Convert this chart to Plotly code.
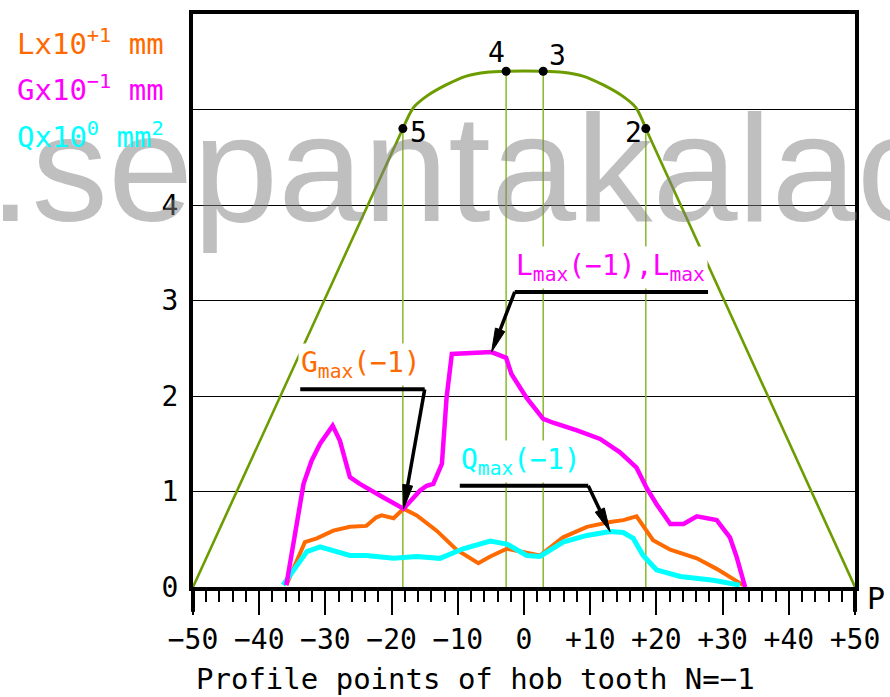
import math
import plotly.graph_objects as go

# ---------------- data ----------------
# hob tooth profile (green outline): straight flanks + rounded tip
profile_p = [-50, -18.3, -16.7, -14.7, -11.7, -8.7, -5.6, -2.7, 2.9, 5.8, 8.9, 11.9, 14.9, 16.9, 18.4, 50]
profile_v = [0, 4.80, 5.02, 5.14, 5.26, 5.35, 5.39, 5.40, 5.40, 5.39, 5.35, 5.26, 5.14, 5.02, 4.80, 0]

# numbered profile points
point_p = [-18.3, -2.7, 2.9, 18.4]
point_v = [4.80, 5.40, 5.40, 4.80]
point_lbl = ["5", "4", "3", "2"]

# L x10^+1 mm (orange)
L_p = [-35.9, -33.1, -31.3, -28.8, -26.3, -23.8, -22.3, -21.5, -19.7, -18.2, -16.2, -13.2, -10.2, -6.9, -5.1,
       -2.6, -1.1, 1.4, 2.4, 5.9, 9.5, 13.0, 15.0, 17.0, 18.5, 19.5, 22.1, 26.1, 29.1, 33.1]
L_v = [0.02, 0.47, 0.51, 0.59, 0.63, 0.64, 0.73, 0.75, 0.72, 0.82, 0.75, 0.59, 0.39, 0.25, 0.32,
       0.40, 0.38, 0.35, 0.33, 0.52, 0.63, 0.68, 0.70, 0.74, 0.59, 0.49, 0.39, 0.30, 0.19, 0.02]

# G x10^-1 mm (magenta)
G_p = [-35.9, -34.8, -33.3, -32.1, -30.8, -28.9, -27.8, -26.3, -24.8, -21.3, -18.2, -15.7, -14.7, -13.7, -12.4,
       -11.7, -10.9, -4.9, -2.7, -1.9, 0.4, 2.9, 4.4, 8.0, 11.5, 14.5, 17.0, 18.5, 20.0, 22.1, 24.1, 26.1,
       29.1, 31.1, 32.1, 33.4]
G_v = [0.02, 0.45, 1.08, 1.32, 1.50, 1.69, 1.53, 1.15, 1.08, 0.94, 0.82, 1.01, 1.06, 1.08, 1.29,
       1.98, 2.44, 2.46, 2.40, 2.23, 1.98, 1.76, 1.72, 1.64, 1.55, 1.41, 1.25, 1.04, 0.87, 0.66, 0.66, 0.74,
       0.70, 0.52, 0.32, 0.0]

# Q x10^0 mm^2 (cyan)
Q_p = [-36.4, -34.8, -32.8, -30.8, -28.3, -26.3, -23.8, -19.7, -16.2, -12.7, -9.2, -5.1, -2.6, 0.4, 2.4,
       5.9, 9.5, 13.0, 15.0, 16.5, 18.0, 20.0, 23.6, 28.6, 32.6]
Q_v = [0.02, 0.18, 0.37, 0.42, 0.37, 0.33, 0.33, 0.30, 0.32, 0.30, 0.40, 0.48, 0.45, 0.33, 0.32,
       0.47, 0.54, 0.58, 0.57, 0.51, 0.33, 0.18, 0.11, 0.07, 0.02]

# max call-outs: tip on curve, leader start/end and leader level
gmax = dict(p=-18.2, v=0.82, x0=-33.8, x1=-15.0, lv=2.07)
lmax = dict(p=-4.9, v=2.46, x0=-1.4, x1=27.8, lv=3.09)
qmax = dict(p=13.0, v=0.58, x0=-9.7, x1=9.7, lv=1.06)

x_ticks = [-50, -40, -30, -20, -10, 0, 10, 20, 30, 40, 50]
x_ticktext = ["\u221250", "\u221240", "\u221230", "\u221220", "\u221210", "0", "+10", "+20", "+30", "+40", "+50"]
y_ticks = [0, 1, 2, 3, 4]
y_ticktext = ["0", "1", "2", "3", "4"]
y_top_grid = 5

# ---------------- style ----------------
ORANGE = "#ff6a00"
MAGENTA = "#ff00ff"
CYAN = "#00ffff"
GREEN = "#6c9c00"
VGREEN = "#8ab82a"
FONT = "DejaVu Sans Mono"

W, H = 890, 697
L_M, R_M, T_M, B_M = 193, 35, 10, 110
X_RANGE = [-50, 50]
Y_RANGE = [0, 6]
SX = (W - L_M - R_M) / (X_RANGE[1] - X_RANGE[0])   # px per x unit
SY = (H - T_M - B_M) / (Y_RANGE[1] - Y_RANGE[0])   # px per y unit


def px(x):
    return (x - L_M) / (W - L_M - R_M)


def py(y):
    return (H - B_M - y) / (H - T_M - B_M)


fig = go.Figure()

# watermark
fig.add_annotation(text=".sepantakalac", xref="paper", yref="paper", x=px(-13), y=py(253),
                   xanchor="left", yanchor="bottom", showarrow=False,
                   font=dict(family="Liberation Sans", size=153, color="rgba(128,128,128,0.5)"))

# vertical lines from profile points
for p, v in zip(point_p, point_v):
    fig.add_trace(go.Scatter(x=[p, p], y=[0, v], mode="lines", line=dict(color=VGREEN, width=1.5),
                             hoverinfo="skip", showlegend=False))

# profile outline: straight flanks and smooth rounded tip
fig.add_trace(go.Scatter(x=profile_p[:2], y=profile_v[:2], mode="lines",
                         line=dict(color=GREEN, width=2.6), showlegend=False))
fig.add_trace(go.Scatter(x=profile_p[-2:], y=profile_v[-2:], mode="lines",
                         line=dict(color=GREEN, width=2.6), showlegend=False))
fig.add_trace(go.Scatter(x=profile_p[1:-1], y=profile_v[1:-1], mode="lines",
                         line=dict(color=GREEN, width=3, shape="spline", smoothing=0.8), showlegend=False))

fig.add_trace(go.Scatter(x=L_p, y=L_v, mode="lines", line=dict(color=ORANGE, width=4), showlegend=False))
fig.add_trace(go.Scatter(x=Q_p, y=Q_v, mode="lines", line=dict(color=CYAN, width=5), showlegend=False))
fig.add_trace(go.Scatter(x=G_p, y=G_v, mode="lines", line=dict(color=MAGENTA, width=4.5), showlegend=False))

# points
fig.add_trace(go.Scatter(x=point_p, y=point_v, mode="markers", marker=dict(color="black", size=9),
                         showlegend=False))
lbl_shift = {"5": (16, -4), "4": (-10, 19), "3": (14, 16), "2": (-12, -4)}
for p, v, t in zip(point_p, point_v, point_lbl):
    dx, dy = lbl_shift[t]
    fig.add_annotation(x=p, y=v, text=t, showarrow=False, xshift=dx, yshift=dy,
                       font=dict(family=FONT, size=28, color="black"))

# leaders + arrows + labels
shapes = []
HEAD_L, HEAD_W = 24, 10
for m, text, col, bend in [(gmax, "G<sub>max</sub>(\u22121)", ORANGE, "x1"),
                           (lmax, "L<sub>max</sub>(\u22121),L<sub>max</sub>", MAGENTA, "x0"),
                           (qmax, "Q<sub>max</sub>(\u22121)", CYAN, "x1")]:
    shapes.append(dict(type="line", xref="x", yref="y", x0=m["x0"], x1=m["x1"], y0=m["lv"], y1=m["lv"],
                       line=dict(color="black", width=4)))
    # arrow direction in pixel space
    dxp = (m["p"] - m[bend]) * SX
    dyp = (m["v"] - m["lv"]) * SY
    ln = math.hypot(dxp, dyp)
    ux, uy = dxp / ln, dyp / ln
    nx, ny = -uy, ux
    bp = m["p"] - ux * HEAD_L / SX
    bv = m["v"] - uy * HEAD_L / SY
    shapes.append(dict(type="line", xref="x", yref="y", x0=m[bend], y0=m["lv"], x1=bp, y1=bv,
                       line=dict(color="black", width=3.5)))
    tri_x = [m["p"], bp + nx * HEAD_W / 2 / SX, bp - nx * HEAD_W / 2 / SX, m["p"]]
    tri_y = [m["v"], bv + ny * HEAD_W / 2 / SY, bv - ny * HEAD_W / 2 / SY, m["v"]]
    fig.add_trace(go.Scatter(x=tri_x, y=tri_y, mode="lines", fill="toself", fillcolor="black",
                             line=dict(color="black", width=1), hoverinfo="skip", showlegend=False))
    fig.add_annotation(x=m["x0"], y=m["lv"], text=text, showarrow=False, xanchor="left", yanchor="bottom",
                       yshift=3, xshift=-2, bgcolor="white", borderpad=2,
                       font=dict(family=FONT, size=28, color=col))

# legend-like texts, top left
for i, (txt, col) in enumerate([("Lx10<sup>+1</sup> mm", ORANGE),
                                ("Gx10<sup>\u22121</sup> mm", MAGENTA),
                                ("Qx10<sup>0</sup> mm<sup>2</sup>", CYAN)]):
    fig.add_annotation(text=txt, xref="paper", yref="paper", x=px(15), y=py(38 + 47 * i),
                       xanchor="left", yanchor="middle", showarrow=False,
                       font=dict(family=FONT, size=29, color=col))

# axis title and P
fig.add_annotation(text="Profile points of hob tooth N=\u22121", xref="paper", yref="paper",
                   x=px(194), y=py(680), xanchor="left", yanchor="middle", showarrow=False,
                   font=dict(family=FONT, size=29, color="black"))
fig.add_annotation(text="P", xref="paper", yref="paper", x=px(876), y=py(599), xanchor="center",
                   yanchor="middle", showarrow=False, font=dict(family=FONT, size=30, color="black"))

# top gridline (unlabelled level 5)
shapes.append(dict(type="line", xref="paper", yref="y", x0=0, x1=1, y0=y_top_grid, y1=y_top_grid,
                   line=dict(color="black", width=1), layer="below"))
# extended frame verticals below the axis
for xv in (0, 1):
    shapes.append(dict(type="line", xref="paper", yref="paper", x0=xv, x1=xv, y0=py(612), y1=0,
                       line=dict(color="black", width=4)))

fig.update_layout(
    width=W, height=H, margin=dict(l=L_M, r=R_M, t=T_M, b=B_M),
    paper_bgcolor="white", plot_bgcolor="white", shapes=shapes,
    xaxis=dict(range=X_RANGE, tickvals=x_ticks, ticktext=x_ticktext, ticks="outside", ticklen=24,
               tickwidth=1.5, tickcolor="black", showgrid=False, zeroline=False,
               showline=True, linewidth=4, linecolor="black", mirror=True,
               tickfont=dict(family=FONT, size=28, color="black"),
               minor=dict(dtick=2, tick0=0, ticks="outside", ticklen=11, tickwidth=1.5, tickcolor="black",
                          showgrid=False)),
    yaxis=dict(range=Y_RANGE, tickvals=y_ticks, ticktext=y_ticktext, ticks="", showgrid=True,
               gridcolor="black", gridwidth=1, zeroline=False, showline=True, linewidth=4,
               linecolor="black", mirror=True, ticklabelstandoff=5,
               tickfont=dict(family=FONT, size=28, color="black")),
)

fig.write_html("out.html")
